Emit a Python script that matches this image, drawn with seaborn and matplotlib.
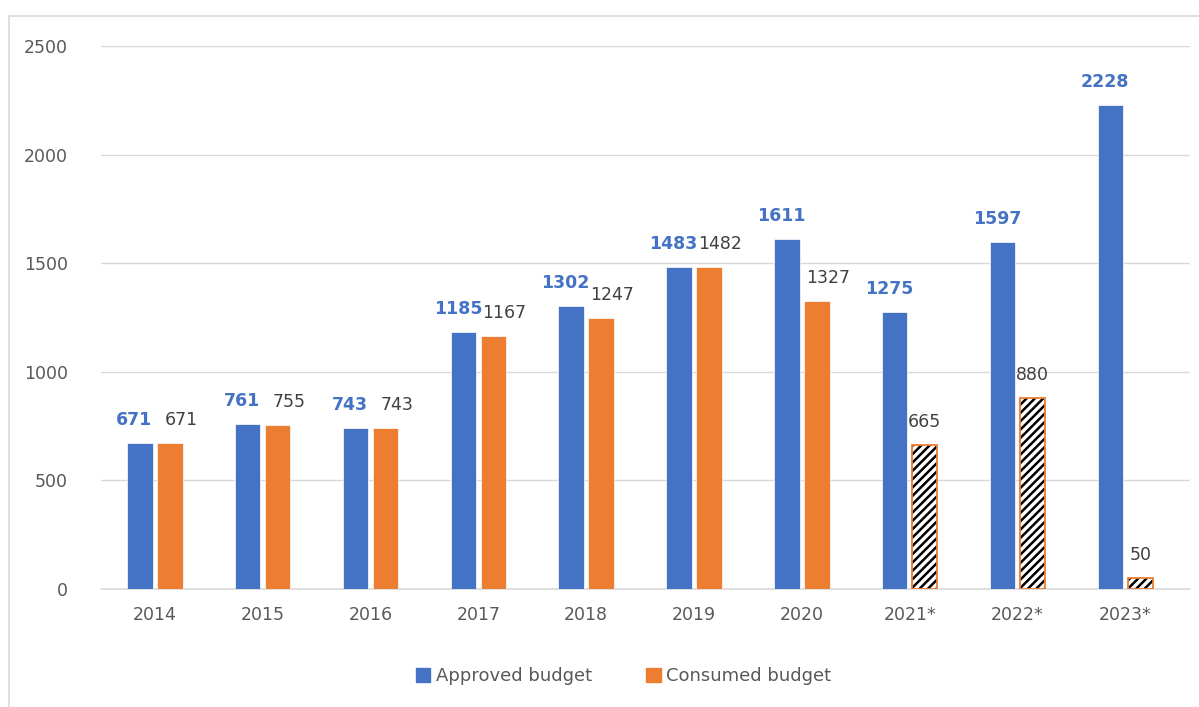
import pandas as pd
import matplotlib.pyplot as plt
import matplotlib.patches as mpatches
import seaborn as sns

# Budget data (values per year)
years = ['2014', '2015', '2016', '2017', '2018', '2019', '2020', '2021*', '2022*', '2023*']
approved = [671, 761, 743, 1185, 1302, 1483, 1611, 1275, 1597, 2228]
consumed = [671, 755, 743, 1167, 1247, 1482, 1327, 665, 880, 50]
series = ['Approved budget', 'Consumed budget']

BLUE = '#4472C4'
ORANGE = '#ED7D31'
GRAY = '#595959'

df = pd.DataFrame({
    'Year': years * 2,
    'Value': approved + consumed,
    'Series': [series[0]] * len(years) + [series[1]] * len(years),
})

sns.set_style('white')
plt.rcParams['font.family'] = ['DejaVu Sans']
plt.rcParams['hatch.linewidth'] = 1.8

fig = plt.figure(figsize=(11.99, 7.07), dpi=100)
ax = fig.add_axes([101 / 1199, 1 - 589 / 707, 1089 / 1199, 543 / 707])

sns.barplot(data=df, x='Year', y='Value', hue='Series', order=years,
            hue_order=series, palette=[BLUE, ORANGE], saturation=1,
            width=0.556, gap=0.15, ax=ax, legend=False,
            edgecolor='white', linewidth=0.5)

ax.set_xlim(-0.5, 9.6)
ax.set_ylim(0, 2500)
ax.set_yticks(range(0, 2501, 500))
ax.grid(axis='y', color='#D9D9D9', linewidth=1)
ax.axhline(0, color='#D9D9D9', linewidth=1.2, clip_on=False, zorder=0.5)
ax.set_axisbelow(True)
for s in ax.spines.values():
    s.set_visible(False)
ax.set_xlabel('')
ax.set_ylabel('')
ax.tick_params(axis='y', length=0, pad=24, labelsize=12.5, labelcolor=GRAY)
ax.tick_params(axis='x', length=0, pad=12, labelsize=12.5, labelcolor=GRAY)

n = len(years)
blue_bars = ax.patches[:n]
orange_bars = ax.patches[n:2 * n]

# projected years: hatched consumed bars
for i, p in enumerate(orange_bars):
    if years[i].endswith('*'):
        p.set_facecolor('white')
        p.set_edgecolor('black')
        p.set_hatch('////')
        p.set_linewidth(0)
        ax.add_patch(mpatches.Rectangle((p.get_x(), p.get_y()), p.get_width(), p.get_height(),
                                        fill=False, edgecolor=ORANGE, linewidth=1.3, zorder=3))

for i, p in enumerate(blue_bars):
    ax.annotate(f'{approved[i]}', (p.get_x() + p.get_width() / 2, p.get_height()),
                xytext=(-4, 10), textcoords='offset points', ha='center', va='bottom',
                fontsize=12.5, fontweight='bold', color=BLUE)

for i, p in enumerate(orange_bars):
    dx = 0 if years[i].endswith('*') else 8
    ax.annotate(f'{consumed[i]}', (p.get_x() + p.get_width() / 2, p.get_height()),
                xytext=(dx, 10), textcoords='offset points', ha='center', va='bottom',
                fontsize=12.5, color='#404040')

# outer chart border
fig.patches.append(mpatches.Rectangle((9 / 1199, -0.05), 1.1, 1 - 16 / 707 + 0.05,
                                      transform=fig.transFigure, fill=False,
                                      edgecolor='#D9D9D9', linewidth=1.2))

handles = [mpatches.Patch(color=BLUE, label=series[0]),
           mpatches.Patch(color=ORANGE, label=series[1])]
fig.legend(handles=handles, loc='center', bbox_to_anchor=(0.52, 1 - 676 / 707), ncol=2,
           frameon=False, fontsize=13, handlelength=0.8, handleheight=0.8,
           handletextpad=0.3, columnspacing=3, labelcolor=GRAY)

fig.savefig('out.png', dpi=100)
